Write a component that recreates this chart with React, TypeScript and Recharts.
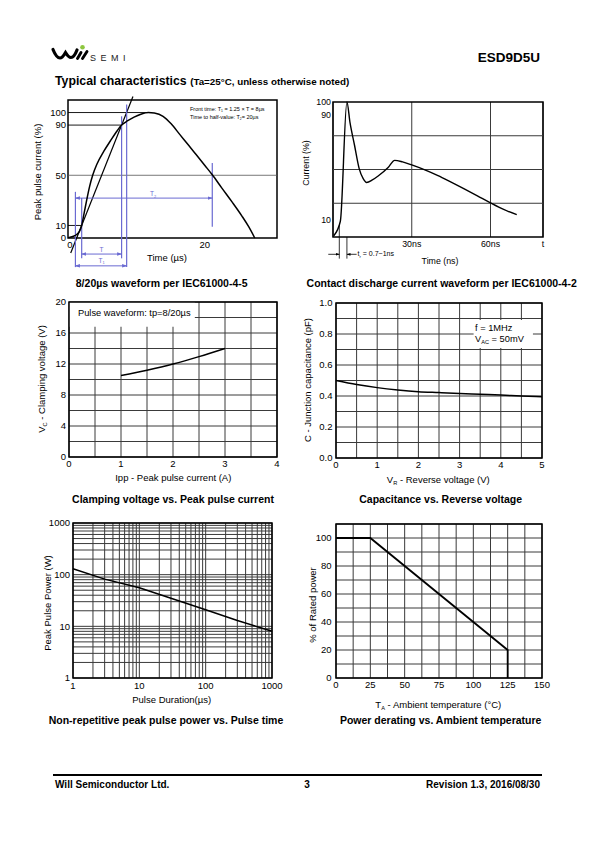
import React from "react";
import { LineChart, Line, XAxis, YAxis, CartesianGrid, ReferenceLine, ReferenceArea } from "recharts";

const FONT = "'Liberation Sans', Arial, Helvetica, sans-serif";
const GRID = "#3a3a3a";
const BLUE = "#6a6ad2";

// 8/20us surge waveform (IEC61000-4-5), time in us, current in %
const surgeTime = [-0.3, 0, 0.5, 1, 1.4, 1.73, 2.1, 2.5, 2.9, 3.36, 4, 5, 6, 7, 7.65, 8.5, 9.5, 10.5, 11.6, 12.5, 13.8, 15, 16.3, 17.5, 18.7, 20, 21.1, 22.5, 24, 25.5, 26.5, 27.4];
const surgeCurrent = [0.3, 0.6, 1.4, 2.8, 5.3, 10, 20, 31, 41, 50, 59, 69, 77.5, 85.5, 90, 93.3, 96.3, 98.6, 100, 99.6, 97, 91, 82.4, 74.5, 66.5, 57.8, 50.4, 40, 29, 17.5, 9, 0];
const surgeXTicks = [0, 20];
const surgeYTicks = [0, 10, 50, 90, 100];

// contact discharge waveform (IEC61000-4-2), time in ns, current in %
const esdTime = [0.3, 2.8, 5.3, 6.5, 8.2, 10, 11.5, 12.8, 15, 17.2, 21, 23.5, 26.5, 30, 35, 40, 45, 50, 55, 60, 65, 70];
const esdCurrent = [-2, 9, 100, 84, 67, 49, 41.5, 38.6, 40.5, 43.5, 50, 55.5, 54.3, 52, 48.2, 43.8, 38.8, 33.7, 28.4, 23, 18, 14];
const esdXTicks = [30, 60, 80];
const esdXLabels = ["30ns", "60ns", "t"];
const esdYTicks = [10, 90, 100];

// clamping voltage vs peak pulse current
const clampIpp = [1, 1.5, 2, 2.5, 3];
const clampVc = [10.5, 11.2, 12, 12.95, 14];
const clampXTicks = [0, 0.5, 1, 1.5, 2, 2.5, 3, 3.5, 4];
const clampYTicks = [0, 2, 4, 6, 8, 10, 12, 14, 16, 18, 20];

// junction capacitance vs reverse voltage
const capVr = [0, 0.5, 1, 1.5, 2, 2.5, 3, 3.5, 4, 4.5, 5];
const capC = [0.5, 0.474, 0.454, 0.439, 0.428, 0.422, 0.416, 0.411, 0.406, 0.4, 0.395];
const capXTicks = [0, 0.5, 1, 1.5, 2, 2.5, 3, 3.5, 4, 4.5, 5];
const capYTicks = [0, 0.1, 0.2, 0.3, 0.4, 0.5, 0.6, 0.7, 0.8, 0.9, 1.0];

// peak pulse power vs pulse duration
const pulseDuration = [1, 3, 10, 30, 100, 300, 1000];
const pulsePower = [130, 82, 56, 35, 21, 13, 8];
const logTicks = [1, 2, 3, 4, 5, 6, 7, 8, 9, 10, 20, 30, 40, 50, 60, 70, 80, 90, 100, 200, 300, 400, 500, 600, 700, 800, 900, 1000];
const logLabels = [1, 10, 100, 1000];

// power derating vs ambient temperature
const deratingTemp = [0, 25, 125, 125];
const deratingPct = [100, 100, 20, 0];
const tempTicks = [0, 12.5, 25, 37.5, 50, 62.5, 75, 87.5, 100, 112.5, 125, 137.5, 150];
const pctTicks = [0, 10, 20, 30, 40, 50, 60, 70, 80, 90, 100, 110];

const surgeData = surgeTime.map((t, k) => ({ t, i: surgeCurrent[k] }));
const esdData = esdTime.map((t, k) => ({ t, i: esdCurrent[k] }));
const clampData = clampIpp.map((a, k) => ({ a, v: clampVc[k] }));
const capData = capVr.map((v, k) => ({ v, c: capC[k] }));
const pulseData = pulseDuration.map((t, k) => ({ t, p: pulsePower[k] }));
const deratingData = deratingTemp.map((t, k) => ({ t, p: deratingPct[k] }));

const SURGE_X: [number, number] = [-0.3, 30.7];
const SURGE_Y: [number, number] = [0, 110];
const ESD_X: [number, number] = [0, 80];
const ESD_Y: [number, number] = [-3, 100];

// landmarks of the 8/20 construction (us)
const tO1 = 0.8, t10 = 1.73, t90 = 7.65, tT1 = 8.4, tPeak = 11.6, tHalf = 21.1;
const frontSlope = 80 / (t90 - t10);
const frontLine = [
  { x: t10 + (-12 - 10) / frontSlope, y: -12 },
  { x: t10 + (112.8 - 10) / frontSlope, y: 112.8 },
];
// rise time markers of the ESD pulse (ns)
const trStart = 2.4, trEnd = 5.3;

type Box = { x0: number; y0: number; x1: number; y1: number };
type Pad = { l: number; t: number; r: number; b: number };

const BOX: Record<string, Box> = {
  surge: { x0: 68, y0: 100, x1: 277, y1: 238 },
  esd: { x0: 333, y0: 102, x1: 543, y1: 237 },
  clamp: { x0: 69, y0: 302, x1: 277, y1: 457 },
  cap: { x0: 336, y0: 303, x1: 542, y1: 458 },
  pulse: { x0: 73, y0: 523, x1: 272, y1: 678 },
  derate: { x0: 336, y0: 524, x1: 542, y1: 678 },
};

function frame(b: Box, pad: Pad) {
  return {
    style: { position: "absolute", left: b.x0 - pad.l, top: b.y0 - pad.t } as React.CSSProperties,
    width: b.x1 - b.x0 + pad.l + pad.r,
    height: b.y1 - b.y0 + pad.t + pad.b,
    margin: { top: pad.t, right: pad.r, bottom: 0, left: 0 },
    yw: pad.l,
    xh: pad.b,
  };
}

const PAD: Pad = { l: 40, t: 12, r: 12, b: 22 };
const axisBase = { axisLine: false, tickLine: false, tickSize: 0, interval: 0 } as const;
const tick = (size = 9.5) => ({ fontSize: size, fill: "#000", fontFamily: FONT });
const lineBase = { dot: false, activeDot: false, isAnimationActive: false, stroke: "#000" } as const;

function SurgeWaveform() {
  const f = frame(BOX.surge, { l: 40, t: 14, r: 12, b: 36 });
  const x0 = SURGE_X[0];
  const blue = { stroke: BLUE, strokeWidth: 1.2, ifOverflow: "visible" as const };
  const arrows = { markerStart: "url(#arrowBlue)", markerEnd: "url(#arrowBlue)" };
  return (
    <div style={f.style}>
      <LineChart width={f.width} height={f.height} data={surgeData} margin={f.margin}>
        <XAxis dataKey="t" type="number" domain={SURGE_X} ticks={surgeXTicks} height={f.xh} tickMargin={3.5} tick={tick()} {...axisBase} />
        <YAxis type="number" domain={SURGE_Y} ticks={surgeYTicks} width={f.yw} tickMargin={2} tick={tick()} {...axisBase} />
        <ReferenceLine y={50} stroke="#555" strokeWidth={0.8} />
        <ReferenceLine segment={[{ x: x0, y: 100 }, { x: tPeak, y: 100 }]} stroke="#000" strokeWidth={0.9} />
        <ReferenceLine segment={[{ x: x0, y: 90 }, { x: t90, y: 90 }]} stroke="#000" strokeWidth={0.9} />
        <ReferenceLine segment={[{ x: x0, y: 10 }, { x: t10, y: 10 }]} stroke="#000" strokeWidth={0.9} />
        <ReferenceLine segment={frontLine} stroke="#000" strokeWidth={1.2} ifOverflow="visible" />
        <ReferenceLine segment={[{ x: tO1, y: 36.8 }, { x: tO1, y: -23.2 }]} {...blue} />
        <ReferenceLine segment={[{ x: t10, y: 31.8 }, { x: t10, y: -16.2 }]} {...blue} />
        <ReferenceLine segment={[{ x: t90, y: 97 }, { x: t90, y: -16.2 }]} {...blue} />
        <ReferenceLine segment={[{ x: tT1, y: 106.4 }, { x: tT1, y: -23.2 }]} {...blue} />
        <ReferenceLine segment={[{ x: tHalf, y: 59.7 }, { x: tHalf, y: 9 }]} {...blue} />
        <ReferenceLine segment={[{ x: tO1, y: 31.8 }, { x: tHalf, y: 31.8 }]} {...blue} strokeWidth={1} {...arrows} />
        <ReferenceLine segment={[{ x: t10, y: -12.8 }, { x: t90, y: -12.8 }]} {...blue} strokeWidth={1} {...arrows} />
        <ReferenceLine segment={[{ x: tO1, y: -22.2 }, { x: tT1, y: -22.2 }]} {...blue} strokeWidth={1} {...arrows} />
        <Line dataKey="i" type="monotone" strokeWidth={1.5} {...lineBase} />
        <ReferenceArea x1={SURGE_X[0]} x2={SURGE_X[1]} y1={SURGE_Y[0]} y2={SURGE_Y[1]} fill="none" stroke="#000" strokeWidth={1.5} fillOpacity={0} />
      </LineChart>
    </div>
  );
}

function EsdWaveform() {
  const f = frame(BOX.esd, { l: 40, t: 12, r: 12, b: 26 });
  const rows = [1, 2, 3].map((k) => ESD_Y[0] + ((ESD_Y[1] - ESD_Y[0]) * k) / 4);
  const thin = { stroke: "#000", strokeWidth: 0.8, ifOverflow: "visible" as const };
  return (
    <div style={f.style}>
      <LineChart width={f.width} height={f.height} data={esdData} margin={f.margin}>
        <XAxis dataKey="t" type="number" domain={ESD_X} ticks={esdXTicks} height={f.xh} tickMargin={3.5} tick={tick(8.8)}
          tickFormatter={(v: number) => esdXLabels[esdXTicks.indexOf(v)] ?? ""} {...axisBase} />
        <YAxis type="number" domain={ESD_Y} ticks={esdYTicks} width={f.yw} tickMargin={2} tick={tick(8.8)} {...axisBase} />
        <CartesianGrid horizontal={false} stroke={GRID} strokeWidth={1} />
        {rows.map((y) => (
          <ReferenceLine key={y} y={y} stroke={GRID} strokeWidth={1} />
        ))}
        <ReferenceLine segment={[{ x: trStart, y: 6 }, { x: trStart, y: -19.5 }]} {...thin} />
        <ReferenceLine segment={[{ x: trEnd, y: ESD_Y[0] }, { x: trEnd, y: -19.5 }]} {...thin} />
        <ReferenceLine segment={[{ x: -1.8, y: -16.2 }, { x: trStart, y: -16.2 }]} {...thin} markerEnd="url(#arrowBlack)" />
        <ReferenceLine segment={[{ x: 9, y: -16.2 }, { x: trEnd, y: -16.2 }]} {...thin} markerEnd="url(#arrowBlack)" />
        <Line dataKey="i" type="monotone" strokeWidth={1.4} {...lineBase} />
        <ReferenceArea x1={ESD_X[0]} x2={ESD_X[1]} y1={ESD_Y[0]} y2={ESD_Y[1]} fill="none" stroke="#000" strokeWidth={1.5} fillOpacity={0} />
      </LineChart>
    </div>
  );
}

function ClampChart() {
  const f = frame(BOX.clamp, PAD);
  return (
    <div style={f.style}>
      <LineChart width={f.width} height={f.height} data={clampData} margin={f.margin}>
        <XAxis dataKey="a" type="number" domain={[0, 4]} ticks={clampXTicks} height={f.xh} tickMargin={3} tick={tick()}
          tickFormatter={(v: number) => (Number.isInteger(v) ? String(v) : "")} {...axisBase} />
        <YAxis type="number" domain={[0, 20]} ticks={clampYTicks} width={f.yw} tickMargin={3} tick={tick()}
          tickFormatter={(v: number) => (v % 4 === 0 ? String(v) : "")} {...axisBase} />
        <CartesianGrid stroke={GRID} strokeWidth={1} />
        <ReferenceArea x1={0} x2={2.42} y1={16.8} y2={20} fill="#fff" fillOpacity={1} stroke="none" />
        <Line dataKey="v" type="monotone" strokeWidth={1.5} {...lineBase} />
        <ReferenceArea x1={0} x2={4} y1={0} y2={20} fill="none" stroke="#000" strokeWidth={1.5} fillOpacity={0} />
      </LineChart>
    </div>
  );
}

function CapChart() {
  const f = frame(BOX.cap, PAD);
  return (
    <div style={f.style}>
      <LineChart width={f.width} height={f.height} data={capData} margin={f.margin}>
        <XAxis dataKey="v" type="number" domain={[0, 5]} ticks={capXTicks} height={f.xh} tickMargin={3.5} tick={tick()}
          tickFormatter={(v: number) => (Number.isInteger(v) ? String(v) : "")} {...axisBase} />
        <YAxis type="number" domain={[0, 1]} ticks={capYTicks} width={f.yw} tickMargin={3.5} tick={tick()}
          tickFormatter={(v: number) => (Math.round(v * 10) % 2 === 0 ? v.toFixed(1) : "")} {...axisBase} />
        <CartesianGrid stroke={GRID} strokeWidth={1} />
        <ReferenceArea x1={3.34} x2={4.78} y1={0.71} y2={0.89} fill="#fff" fillOpacity={1} stroke="none" />
        <Line dataKey="c" type="monotone" strokeWidth={1.5} {...lineBase} />
        <ReferenceArea x1={0} x2={5} y1={0} y2={1} fill="none" stroke="#000" strokeWidth={1.5} fillOpacity={0} />
      </LineChart>
    </div>
  );
}

function PulseChart() {
  const f = frame(BOX.pulse, PAD);
  const fmt = (v: number) => (logLabels.includes(v) ? String(v) : "");
  return (
    <div style={f.style}>
      <LineChart width={f.width} height={f.height} data={pulseData} margin={f.margin}>
        <XAxis dataKey="t" type="number" scale="log" domain={[1, 1000]} ticks={logTicks} height={f.xh} tickMargin={4.5} tick={tick()}
          tickFormatter={fmt} {...axisBase} />
        <YAxis type="number" scale="log" domain={[1, 1000]} ticks={logTicks} width={f.yw} tickMargin={3} tick={tick()}
          tickFormatter={fmt} {...axisBase} />
        <CartesianGrid stroke={GRID} strokeWidth={1} />
        <Line dataKey="p" type="linear" strokeWidth={1.5} {...lineBase} />
        <ReferenceArea x1={1} x2={1000} y1={1} y2={1000} fill="none" stroke="#000" strokeWidth={1.5} fillOpacity={0} />
      </LineChart>
    </div>
  );
}

function DeratingChart() {
  const f = frame(BOX.derate, PAD);
  return (
    <div style={f.style}>
      <LineChart width={f.width} height={f.height} data={deratingData} margin={f.margin}>
        <XAxis dataKey="t" type="number" domain={[0, 150]} ticks={tempTicks} height={f.xh} tickMargin={3.5} tick={tick()}
          tickFormatter={(v: number) => (v % 25 === 0 ? String(v) : "")} {...axisBase} />
        <YAxis type="number" domain={[0, 110]} ticks={pctTicks} width={f.yw} tickMargin={4.5} tick={tick()}
          tickFormatter={(v: number) => (v % 20 === 0 && v <= 100 ? String(v) : "")} {...axisBase} />
        <CartesianGrid stroke={GRID} strokeWidth={1} />
        <Line dataKey="p" type="linear" strokeWidth={1.8} {...lineBase} />
        <ReferenceArea x1={0} x2={150} y1={0} y2={110} fill="none" stroke="#000" strokeWidth={1.5} fillOpacity={0} />
      </LineChart>
    </div>
  );
}

type TxtProps = {
  x: number;
  y: number;
  size?: number;
  bold?: boolean;
  anchor?: "start" | "middle" | "end";
  rotate?: boolean;
  color?: string;
  spacing?: number;
  children: React.ReactNode;
};

function Txt({ x, y, size = 9.5, bold, anchor = "middle", rotate, color = "#000", spacing, children }: TxtProps) {
  const tx = anchor === "start" ? "0" : anchor === "end" ? "-100%" : "-50%";
  return (
    <div
      style={{
        position: "absolute",
        left: x,
        top: y,
        fontSize: size,
        fontWeight: bold ? 700 : 400,
        color,
        lineHeight: 1,
        whiteSpace: "nowrap",
        letterSpacing: spacing,
        transform: `translate(${tx},-50%)${rotate ? " rotate(-90deg)" : ""}`,
      }}
    >
      {children}
    </div>
  );
}

const Sub = ({ children }: { children: React.ReactNode }) => (
  <span style={{ fontSize: "0.6em", position: "relative", top: "0.4em" }}>{children}</span>
);

function ArrowDefs() {
  return (
    <svg width={0} height={0} style={{ position: "absolute" }}>
      <defs>
        <marker id="arrowBlue" viewBox="0 0 10 10" refX={9} refY={5} markerWidth={5} markerHeight={5} orient="auto-start-reverse">
          <path d="M0,1.5 L10,5 L0,8.5 z" fill={BLUE} />
        </marker>
        <marker id="arrowBlack" viewBox="0 0 10 10" refX={9} refY={5} markerWidth={5} markerHeight={5} orient="auto-start-reverse">
          <path d="M0,1.5 L10,5 L0,8.5 z" fill="#000" />
        </marker>
      </defs>
    </svg>
  );
}

function Logo() {
  return (
    <svg width={40} height={20} style={{ position: "absolute", left: 50, top: 42 }} viewBox="50 42 40 20">
      <path d="M53,49.5 C55,54.5 57,58 60,58 C62.5,58 64,55 65.5,52.5 C67,55 68.5,57.5 71,57.5 C73.5,57.5 75.5,54 77,50" fill="none" stroke="#000" strokeWidth={3.2} strokeLinecap="round" />
      <path d="M77.5,58.5 L81,52.5 M82.5,58.5 L87,51.5" fill="none" stroke="#000" strokeWidth={2.9} strokeLinecap="round" />
      <circle cx={82.5} cy={47.3} r={2.3} fill="#8dc63f" />
    </svg>
  );
}

export default function App() {
  return (
    <div style={{ position: "absolute", left: 0, top: 0, width: 595, height: 842, background: "#fff", fontFamily: FONT, overflow: "hidden" }}>
      <ArrowDefs />
      <Logo />
      <Txt x={90} y={57.5} size={9} anchor="start" spacing={4.5} color="#222">SEMI</Txt>
      <Txt x={540} y={58} size={13.5} bold anchor="end">ESD9D5U</Txt>
      <div style={{ position: "absolute", left: 55, top: 72, whiteSpace: "nowrap", fontWeight: 700, lineHeight: 1 }}>
        <span style={{ fontSize: 12.3 }}>Typical characteristics </span>
        <span style={{ fontSize: 9.8 }}>(Ta=25°C, unless otherwise noted)</span>
      </div>

      <SurgeWaveform />
      <EsdWaveform />
      <ClampChart />
      <CapChart />
      <PulseChart />
      <DeratingChart />

      {/* surge waveform texts */}
      <Txt x={38} y={172} rotate>Peak pulse current (%)</Txt>
      <Txt x={167} y={258} size={9.5}>Time (µs)</Txt>
      <Txt x={190} y={109.5} size={5.5} anchor="start">Front time: T<Sub>1</Sub> = 1.25 × T = 8µs</Txt>
      <Txt x={190} y={118} size={5.5} anchor="start">Time to half-value: T<Sub>2</Sub>= 20µs</Txt>
      <Txt x={153} y={194} size={6.5} color={BLUE}>T<Sub>2</Sub></Txt>
      <Txt x={101.5} y={249.5} size={6.5} color={BLUE}>T</Txt>
      <Txt x={101.5} y={260.5} size={6.5} color={BLUE}>T<Sub>1</Sub></Txt>
      <Txt x={161.7} y={283} size={10.5} bold>8/20µs waveform per IEC61000-4-5</Txt>

      {/* ESD waveform texts */}
      <Txt x={305.5} y={163} size={8.8} rotate>Current (%)</Txt>
      <Txt x={440} y={260.5} size={8.8}>Time (ns)</Txt>
      <Txt x={357.5} y={254} size={7} anchor="start">t<Sub>r</Sub> = 0.7~1ns</Txt>
      <Txt x={441.7} y={283} size={10.5} bold>Contact discharge current waveform per IEC61000-4-2</Txt>

      {/* clamping voltage texts */}
      <Txt x={78} y={314} size={9.3} anchor="start">Pulse waveform: tp=8/20µs</Txt>
      <Txt x={41.7} y={379} rotate>V<Sub>C</Sub> - Clamping voltage (V)</Txt>
      <Txt x={173.3} y={478.3}>Ipp - Peak pulse current (A)</Txt>
      <Txt x={173} y={498.5} size={10.5} bold>Clamping voltage vs. Peak pulse current</Txt>

      {/* capacitance texts */}
      <Txt x={475} y={328.5} size={9.3} anchor="start">f = 1MHz</Txt>
      <Txt x={475} y={340} size={9.3} anchor="start">V<Sub>AC</Sub> = 50mV</Txt>
      <Txt x={307.7} y={380} rotate>C - Junction capacitance (pF)</Txt>
      <Txt x={438.3} y={480}>V<Sub>R</Sub> - Reverse voltage (V)</Txt>
      <Txt x={440.7} y={498.5} size={10.5} bold>Capacitance vs. Reverse voltage</Txt>

      {/* pulse power texts */}
      <Txt x={48.3} y={603} rotate>Peak Pulse Power (W)</Txt>
      <Txt x={171.7} y={700}>Pulse Duration(µs)</Txt>
      <Txt x={166} y={719.5} size={10.5} bold>Non-repetitive peak pulse power vs. Pulse time</Txt>

      {/* derating texts */}
      <Txt x={313.3} y={605} rotate>% of Rated power</Txt>
      <Txt x={438.3} y={705}>T<Sub>A</Sub> - Ambient temperature (°C)</Txt>
      <Txt x={440.7} y={719.5} size={10.5} bold>Power derating vs. Ambient temperature</Txt>

      {/* footer */}
      <div style={{ position: "absolute", left: 53, top: 774, width: 489, height: 1.5, background: "#000" }} />
      <Txt x={55} y={785} size={10} bold anchor="start">Will Semiconductor Ltd.</Txt>
      <Txt x={307} y={785} size={10} bold>3</Txt>
      <Txt x={540} y={785} size={10} bold anchor="end">Revision 1.3, 2016/08/30</Txt>
    </div>
  );
}
